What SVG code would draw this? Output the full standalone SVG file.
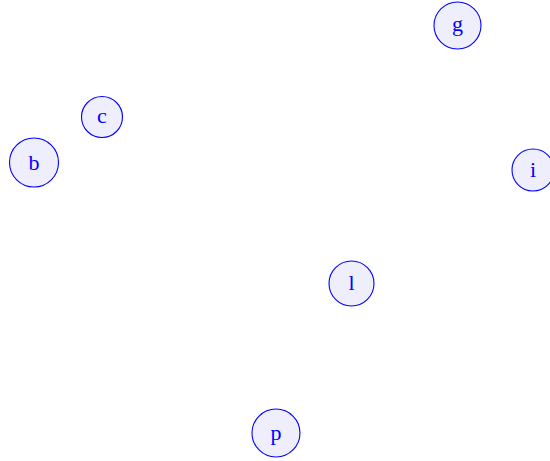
<svg xmlns="http://www.w3.org/2000/svg" width="550" height="461" viewBox="0 0 550 461">
<style>
.n circle{fill:#eeeefd;stroke:#0000ff;stroke-width:1.1}
.n text{font-family:"Liberation Serif","DejaVu Serif",serif;font-size:22px;fill:#0000ff;text-anchor:middle;dominant-baseline:central}
</style>
<rect width="550" height="461" fill="#fff"/>
<g id="connectors"></g>
<g id="g" class="n"><circle cx="457.5" cy="25.5" r="23.5"/><text x="457.5" y="23.5">g</text></g>
<g id="c" class="n"><circle cx="102" cy="117" r="20.5"/><text x="102" y="115">c</text></g>
<g id="b" class="n"><circle cx="34" cy="162.5" r="24.5"/><text x="34" y="162">b</text></g>
<g id="i" class="n"><circle cx="533" cy="170" r="21"/><text x="533" y="169">i</text></g>
<g id="l" class="n"><circle cx="351.5" cy="283.5" r="22.5"/><text x="351.5" y="282.5">l</text></g>
<g id="p" class="n"><circle cx="276" cy="433" r="24"/><text x="276" y="432">p</text></g>
</svg>
